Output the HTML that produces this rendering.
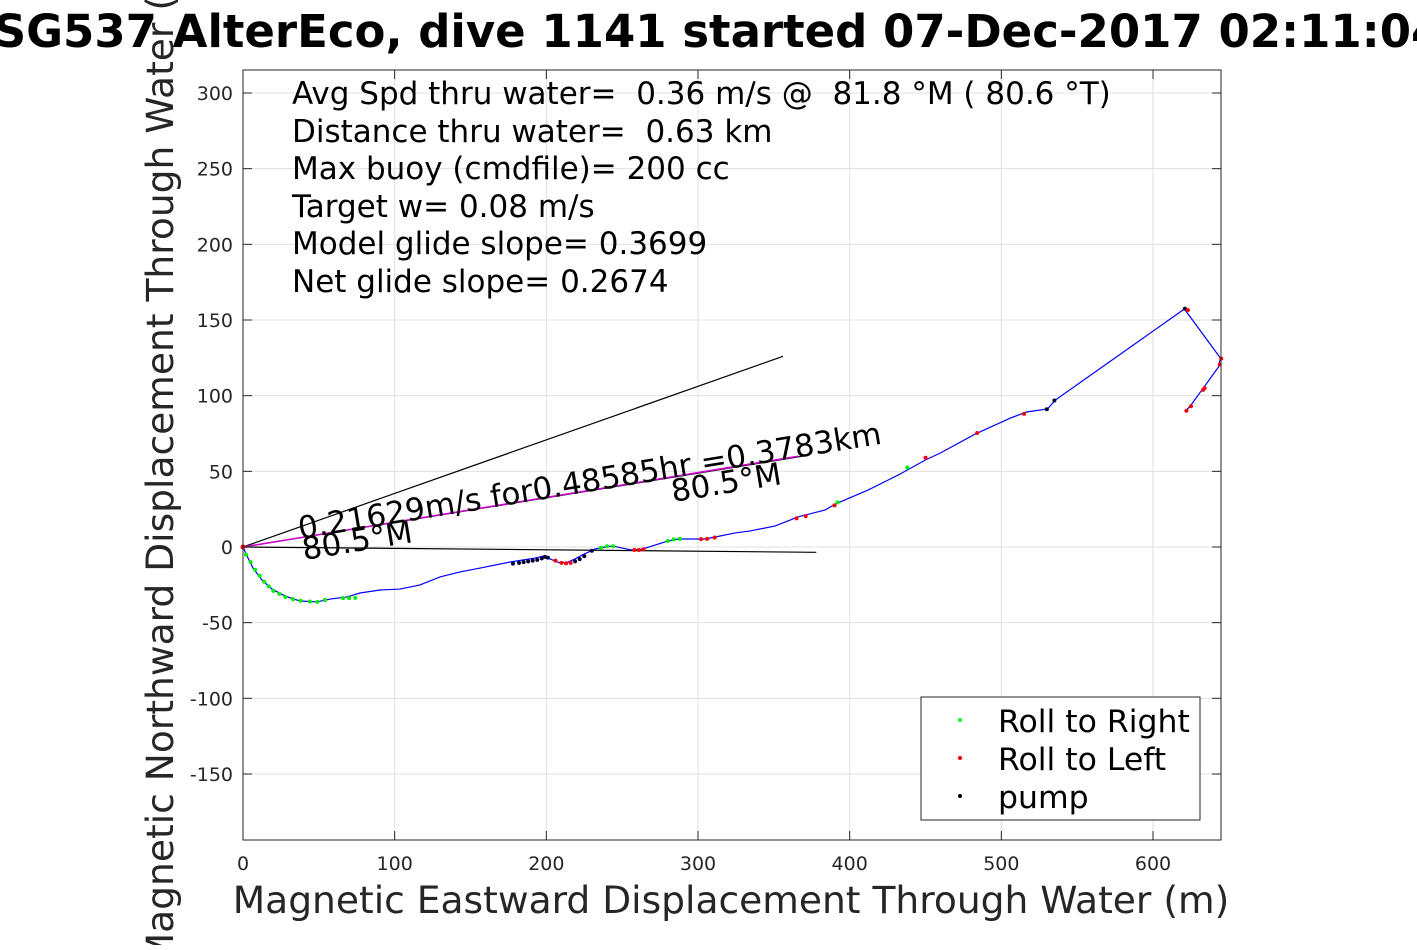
<!DOCTYPE html>
<html><head><meta charset="utf-8"><style>
body{margin:0;background:#fff;width:1417px;height:945px;overflow:hidden;font-family:"Liberation Sans","DejaVu Sans",sans-serif}
svg text{font-family:"DejaVu Sans","Liberation Sans",sans-serif;white-space:pre}
</style></head><body>
<svg width="1417" height="945">
<g id="grid"></g>
<g id="marks"></g>
<rect x="243" y="70" width="978" height="770" fill="none" stroke="#262626" stroke-width="1"/>
<g id="ticks"></g>
<text x="718" y="47" font-size="45" font-weight="bold" text-anchor="middle">SG537 AlterEco, dive 1141 started 07-Dec-2017 02:11:04</text>
<text x="731" y="913" font-size="37.6" fill="#262626" text-anchor="middle">Magnetic Eastward Displacement Through Water (m)</text>
<text transform="translate(173,455) rotate(-90)" font-size="37.6" fill="#262626" text-anchor="middle">Magnetic Northward Displacement Through Water (m)</text>
<g font-size="31">
<text x="292" y="104" xml:space="preserve">Avg Spd thru water=  0.36 m/s @  81.8 °M ( 80.6 °T)</text>
<text x="292" y="142" xml:space="preserve">Distance thru water=  0.63 km</text>
<text x="292" y="179">Max buoy (cmdfile)= 200 cc</text>
<text x="292" y="217">Target w= 0.08 m/s</text>
<text x="292" y="254">Model glide slope= 0.3699</text>
<text x="292" y="292">Net glide slope= 0.2674</text>
</g>
<text transform="translate(300,539) rotate(-9.3)" font-size="31">0.21629m/s for0.48585hr =0.3783km</text>
<text transform="translate(304,560) rotate(-9.3)" font-size="31">80.5°M</text>
<text transform="translate(673,502) rotate(-9.3)" font-size="31">80.5°M</text>
<g>
<rect x="921" y="697" width="279" height="123" fill="#fff" stroke="#262626"/>
<circle cx="960" cy="720" r="2" fill="#0f0"/>
<text x="998" y="732" font-size="31.5">Roll to Right</text>
<circle cx="960" cy="758" r="2" fill="red"/>
<text x="998" y="770" font-size="31.5">Roll to Left</text>
<circle cx="960" cy="796" r="2" fill="#000"/>
<text x="998" y="808" font-size="31.5">pump</text>
</g>
</svg>
<script>
const xTicks=[0,100,200,300,400,500,600];
const yTicks=[-150,-100,-50,0,50,100,150,200,250,300];
const trackX=[0,3.3,6.6,12.5,19.1,27.7,37.6,48.8,57.4,68.6,77.1,90.3,103.5,116.7,129.9,143.1,156.3,176.1,192.6,197.8,201.1,205.8,209.1,214.4,219,223.6,232.2,238.8,243.4,250,256.6,263.8,271.7,280.3,286.9,294.8,304.7,311.3,324.5,334.4,350.9,360.8,365.4,370.7,383.9,390.5,412.3,432.1,449.9,459.8,482.9,506,516.5,530.4,535.6,620.7,644.4,643.1,633.2,624.6,622];
const trackY=[0,-7.3,-13.9,-21.8,-27.8,-32.4,-35.7,-36.3,-34.4,-33,-30.4,-28.4,-27.8,-25.1,-19.8,-16.5,-13.9,-9.9,-7.3,-6,-7.3,-9.3,-10.6,-9.9,-7.9,-5.3,-1.3,0,0.7,-0.7,-2,-1.3,1.3,4,5.3,5.3,5.3,6.6,9.3,10.6,13.9,17.8,19.8,21.1,24.5,28.4,37.7,47.6,57.5,62.1,74.7,85.2,89.2,91.2,97.1,157.3,124.9,118.9,105.1,93.2,90.5];
const dotX=[2,5,8,11,14,17,20,24,28,33,38,44,49,54,66,70,74,178,182,185,188,191,194,197,199,201,206,210,213,216,219,222,225,230,236,240,244,258,261,264,280,284,288,302,306,311,365,371,390,392,438,450,484,515,530,535,621,623,645,644,634,633,625,622];
const dotY=[-5,-10,-15,-19,-23,-26,-29,-31,-33,-34.5,-35.5,-36,-36.3,-35,-33.8,-33.8,-33.6,-11,-10.5,-10,-9.5,-9,-8.5,-7.5,-6.5,-7,-9,-10.5,-10.8,-10.5,-9.5,-8,-6,-2.5,-0.5,0.5,0.5,-2,-2,-1.5,4,5,5.4,5.2,5.4,6.3,18.9,20.4,27.5,29.5,52.5,59,75.3,88,91,96.8,157.5,156.5,124.5,120.5,105,103.8,93,90];
const dotType=['g','g','g','g','g','g','g','g','g','g','g','g','g','g','g','g','g','k','k','k','k','k','k','k','k','k','r','r','r','r','k','k','k','k','g','g','g','r','r','r','g','g','g','r','r','r','r','r','r','g','g','r','r','r','k','k','k','r','r','r','r','r','r','r'];
const X0=243,SX=1.5167,Y0=547,SY=1.5133;
const px=v=>X0+v*SX, py=v=>Y0-v*SY;
const NS='http://www.w3.org/2000/svg';
function mk(t,a,p){const e=document.createElementNS(NS,t);for(const k in a)e.setAttribute(k,a[k]);p.appendChild(e);return e;}
const grid=document.getElementById('grid'),ticks=document.getElementById('ticks'),marks=document.getElementById('marks');
xTicks.forEach(v=>{const x=px(v);
 const g=mk('line',{x1:x,x2:x,y1:70,y2:840,stroke:'#e0e0e0'},grid);
 
 
 mk('line',{x1:x,x2:x,y1:840,y2:831,stroke:'#262626'},ticks);
 mk('line',{x1:x,x2:x,y1:70,y2:79,stroke:'#262626'},ticks);
 const t=mk('text',{x:x,y:870,'font-size':19,'text-anchor':'middle',fill:'#262626'},ticks);t.textContent=v;
 
 });
yTicks.forEach(v=>{const y=py(v);
 const g=mk('line',{x1:243,x2:1221,y1:y,y2:y,stroke:'#e0e0e0'},grid);
 
 
 mk('line',{x1:243,x2:252,y1:y,y2:y,stroke:'#262626'},ticks);
 mk('line',{x1:1221,x2:1212,y1:y,y2:y,stroke:'#262626'},ticks);
 const t=mk('text',{x:233,y:y+7,'font-size':19,'text-anchor':'end',fill:'#262626'},ticks);t.textContent=v;
 
 });
const refLines=[[356,126,'#000'],[378,-3.5,'#000'],[372,60.5,'#000']];
refLines.forEach(r=>{const l=mk('line',{x1:px(0),y1:py(0),x2:px(r[0]),y2:py(r[1]),stroke:r[2],'stroke-width':1.2},marks);
 
 });
const mag=mk('line',{x1:px(0),y1:py(0),x2:px(366),y2:py(60),stroke:'#d000d0','stroke-width':1.5},marks);


const tr=mk('polyline',{points:trackX.map((x,i)=>px(x)+','+py(trackY[i])).join(' '),fill:'none',stroke:'#0000ff','stroke-width':1.2},marks);


const col={g:'#00ee00',r:'#ff0000',k:'#000033'};
dotX.forEach((x,i)=>{const c=mk('circle',{cx:px(x),cy:py(dotY[i]),r:2,fill:col[dotType[i]]},marks);
 
 });
const o=mk('circle',{cx:px(0),cy:py(0),r:2.5,fill:'red'},marks);


</script>
</body></html>
